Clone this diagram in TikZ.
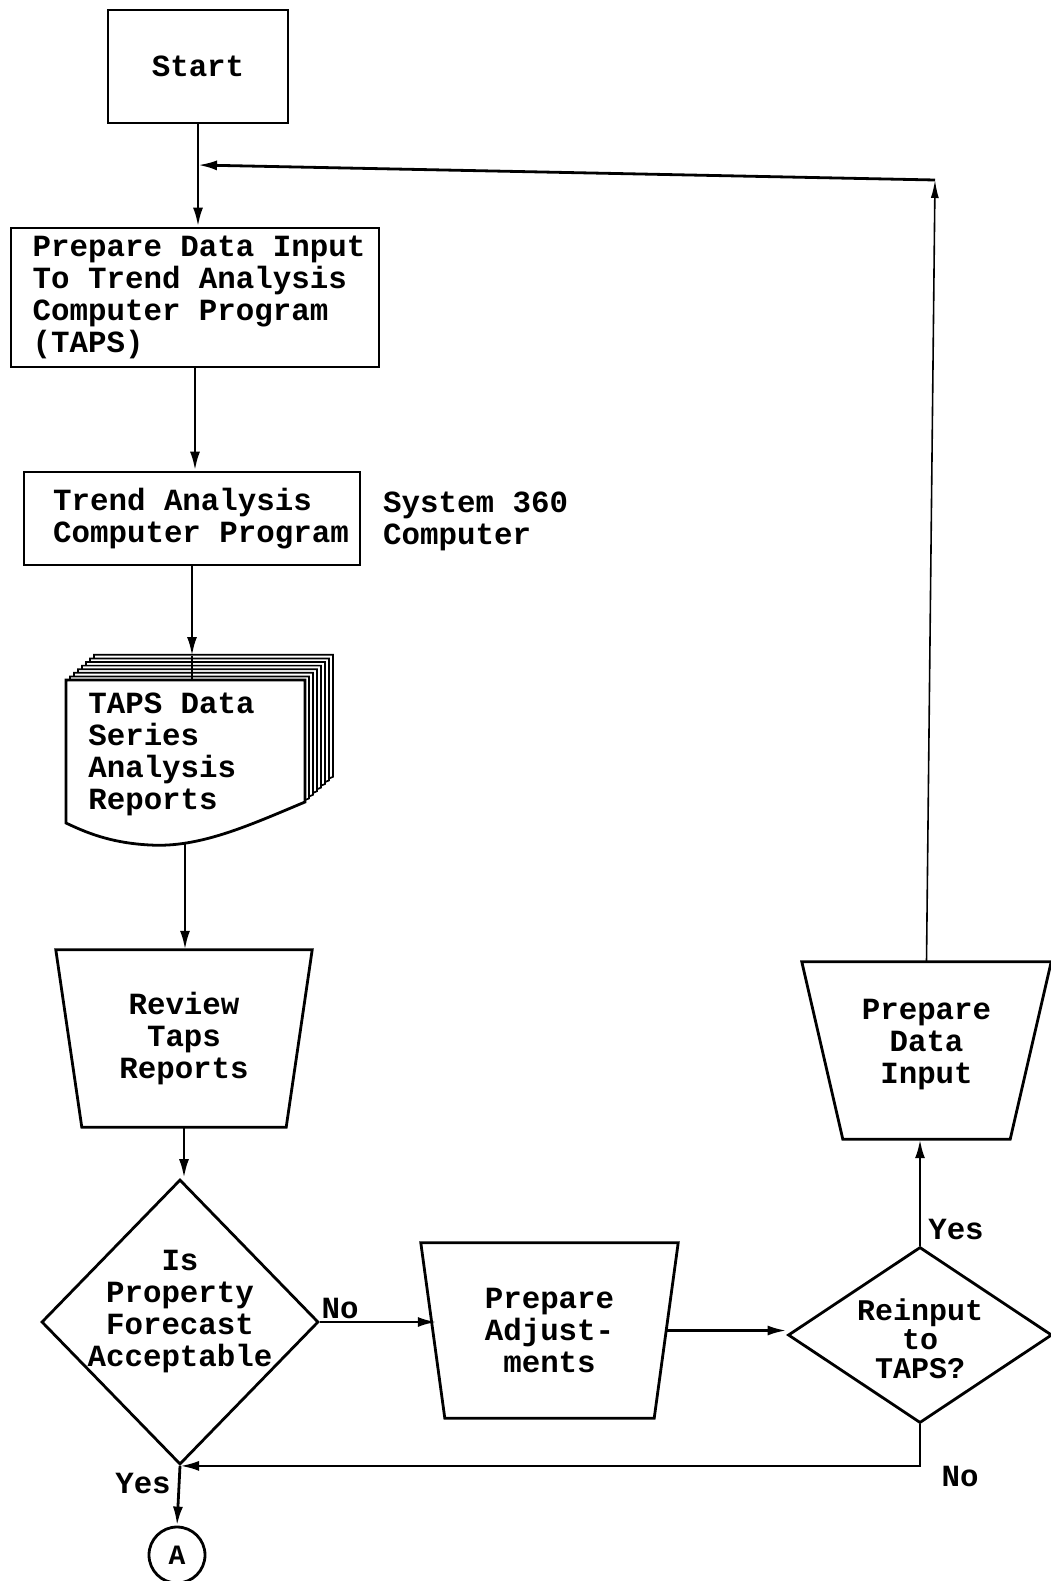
\documentclass[tikz,border=0pt]{standalone}
\usepackage{fontspec}
\newfontfamily\tw{Liberation Mono}
\usetikzlibrary{shapes.geometric,arrows.meta,calc}

\begin{document}
\begin{tikzpicture}[x=1pt,y=-1pt,
  txt/.style={font=\tw\bfseries\fontsize{30.8}{32}\selectfont, inner sep=0pt, align=center},
  box/.style={draw, line width=2.8pt, inner sep=0pt, font=\tw\bfseries\fontsize{30.8}{32}\selectfont},
  frame/.style={inner sep=0pt},
  outline/.style={line width=2.8pt, line join=miter},
  dia/.style={draw, line width=2.8pt, diamond, inner sep=0pt},
  arr/.style={line width=2.8pt, -{Latex[length=19pt,width=10pt]}},
  thinarr/.style={line width=1.6pt, -{Latex[length=18pt,width=8pt]}},
]
\useasboundingbox[fill=white] (0,0) rectangle (1050,1581);

% process boxes
\node[box, minimum width=180, minimum height=113] (start) at (198,66.5) {Start};
\node[box, minimum width=368, minimum height=139,
  label={[txt, align=left, xshift=4pt]center:Prepare Data Input\\To Trend Analysis\\Computer Program\\(TAPS)}]
  (prep) at (195,297.5) {};
\node[box, minimum width=336, minimum height=93,
  label={[txt, align=left, xshift=9pt]center:Trend Analysis\\Computer Program}]
  (trend) at (192,518.5) {};
\node[txt, align=left, anchor=west] (sys) at (383,521) {System 360\\Computer};

% stacked report document
\coordinate (stacktop) at (0,656);
\coordinate (docbot) at (185,843);
\foreach \k in {7,6,5,4,3,2,1}{
  \draw[line width=1.7pt, fill=white, shift={(\k*4,-\k*3.6)}]
    (66,680) -- (305,680) -- (305,802)
    .. controls (250,825) and (200,848) .. (150,845)
    .. controls (110,843) and (85,832) .. (66,823) -- cycle;
}
\draw[arr] (trend.south) -- (trend.south |- stacktop);
\draw[line width=1.7pt] (trend.south |- stacktop) -- ++(0,24);
\draw[line width=2.8pt, fill=white]
  (66,680) -- (305,680) -- (305,802)
  .. controls (250,825) and (200,848) .. (150,845)
  .. controls (110,843) and (85,832) .. (66,823) -- cycle;
\node[frame, minimum width=239, minimum height=143,
  label={[txt, align=left, xshift=-14pt, yshift=-3pt]center:TAPS Data\\Series\\Analysis\\Reports}]
  (doc) at (185.5,751.5) {};

% manual operations (wide top, narrow bottom)
\node[frame, minimum width=256, minimum height=177,
  label={[txt]center:Review\\Taps\\Reports}]
  (review) at (184,1038.5) {};
\draw[outline] (review.north west) -- (review.north east)
  -- ($(review.south east)+(-26,0)$) -- ($(review.south west)+(26,0)$) -- cycle;
\node[frame, minimum width=257, minimum height=175,
  label={[txt]center:Prepare\\Adjust-\\ments}]
  (adj) at (549.5,1330.5) {};
\draw[outline] (adj.north west) -- (adj.north east)
  -- ($(adj.south east)+(-24,0)$) -- ($(adj.south west)+(24,0)$) -- cycle;
\node[frame, minimum width=249, minimum height=177,
  label={[txt, yshift=6pt]center:Prepare\\Data\\Input}]
  (pdi) at (926.5,1050.5) {};
\draw[outline] (pdi.north west) -- (pdi.north east)
  -- ($(pdi.south east)+(-41,0)$) -- ($(pdi.south west)+(41,0)$) -- cycle;

% decisions
\node[dia, minimum width=277, minimum height=285,
  label={[txt, yshift=10pt]center:Is\\Property\\Forecast\\Acceptable}]
  (d1) at (180,1322) {};
\node[dia, minimum width=264, minimum height=176,
  label={[txt, font=\tw\bfseries\fontsize{30}{29}\selectfont, yshift=-4pt]center:Reinput\\to\\TAPS?}]
  (d2) at (920,1335) {};

% off-page connector
\node[draw, circle, line width=2.8pt, minimum size=56, inner sep=0pt,
  font=\tw\bfseries\fontsize{28}{30}\selectfont] (A) at (177,1555) {A};

% flow lines
\coordinate (corner) at (935,180);
\coordinate (join) at (198,165);
\coordinate (adjin) at ($(adj.west)+(16,0)$);
\coordinate (adjout) at ($(adj.east)+(-13,0)$);
\draw[arr] (start.south) -- (start.south |- prep.north);
\draw[arr] (prep.south) -- (prep.south |- trend.north);
\draw[arr] (docbot) -- (docbot |- review.north);
\draw[arr] (review.south) -- (review.south |- d1.north);
\draw[arr] (d1.east) -- (d1.east -| adjin);
\draw[arr] (adjout) -- (adjout -| d2.west);
\draw[arr] (d2.north) -- (d2.north |- pdi.south);
\draw[thinarr] (pdi.north) -- (corner);
\draw[arr] (corner) -- (join);
\draw[arr] (d2.south) |- (d1.south);
\draw[arr] (d1.south) -- (A.north);

% branch labels
\node[txt] (no1) at (340,1308) {No};
\node[txt] (yes2) at (956,1229) {Yes};
\node[txt] (no2) at (960,1476) {No};
\node[txt] (yes1) at (143,1483) {Yes};
\end{tikzpicture}
\end{document}
